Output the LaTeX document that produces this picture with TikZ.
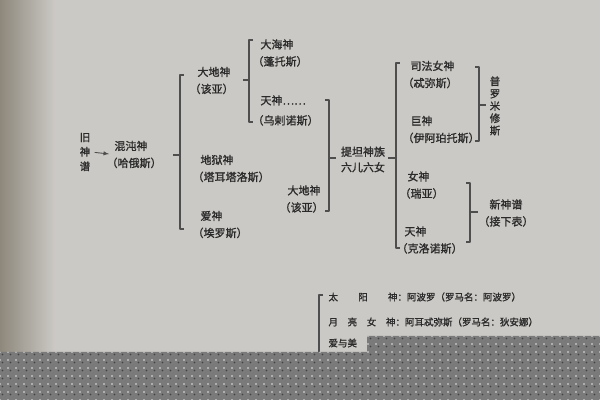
\documentclass[tikz,border=0pt]{standalone}
\usepackage{fontspec}
\newfontfamily\cjk{Noto Sans CJK SC}[FakeBold=1.2]
\usepackage{tikz}
\usetikzlibrary{patterns.meta}
\definecolor{pagecol}{RGB}{203,201,197}
\definecolor{edgecol}{RGB}{142,136,124}
\definecolor{inkcol}{RGB}{42,42,42}
\definecolor{rulecol}{RGB}{78,78,78}
\definecolor{bandcol}{RGB}{122,122,122}
\newcommand\pn[1]{\hspace*{-0.72em}（#1）}
\begin{document}
\begin{tikzpicture}[>=latex,line join=bevel,
  god/.style={align=left,anchor=west,inner sep=0pt,text=inkcol,
    font={\cjk\fontsize{11bp}{17bp}\selectfont}},
  godc/.style={god,align=center,anchor=center},
  table line/.style={god,font={\cjk\fontsize{9.5bp}{12bp}\selectfont}},
  bracket/.style={draw=rulecol,line width=1.1bp},
  ]
  \pgfsetlinewidth{1bp}
\useasboundingbox (0bp,0bp) rectangle (600bp,400bp);
%% page
  \fill [pagecol] (0bp,0bp) rectangle (600bp,400bp);
  \shade [left color=edgecol,right color=pagecol] (0bp,0bp) rectangle (55bp,400bp);
%%
  % Node: jiu
  \node [godc,font={\cjk\fontsize{10.5bp}{14.5bp}\selectfont}] (jiu) at (85bp,248bp) {旧\\神\\谱};
  % Node: hundun
  \node [god] (hundun) at (114bp,245.5bp) {混沌神\\\pn{哈俄斯}};
  % Node: dadi1
  \node [god] (dadi1) at (197bp,319.5bp) {大地神\\\pn{该亚}};
  % Node: diyu
  \node [god] (diyu) at (200bp,231.5bp) {地狱神\\\pn{塔耳塔洛斯}};
  % Node: ai
  \node [god] (ai) at (200bp,175.5bp) {爱神\\\pn{埃罗斯}};
  % Node: dahai
  \node [god] (dahai) at (260bp,347bp) {大海神\\\pn{蓬托斯}};
  % Node: tian1
  \node [god,font={\cjk\fontsize{11bp}{20bp}\selectfont}] (tian1) at (260bp,289.5bp) {天神……\\\pn{乌剌诺斯}};
  % Node: dadi2
  \node [god] (dadi2) at (287bp,201bp) {大地神\\\pn{该亚}};
  % Node: titan
  \node [godc,font={\cjk\fontsize{11bp}{15.5bp}\selectfont}] (titan) at (363bp,240.5bp) {提坦神族\\六儿六女};
  % Node: sifa
  \node [god] (sifa) at (410bp,325.5bp) {司法女神\\\pn{忒弥斯}};
  % Node: ju
  \node [god] (ju) at (410bp,270.5bp) {巨神\\\pn{伊阿珀托斯}};
  % Node: nv
  \node [god] (nv) at (407bp,215bp) {女神\\\pn{瑞亚}};
  % Node: tian2
  \node [god] (tian2) at (404bp,160bp) {天神\\\pn{克洛诺斯}};
  % Node: pulu
  \node [godc,font={\cjk\fontsize{10.5bp}{12.3bp}\selectfont}] (pulu) at (495bp,294bp) {普\\罗\\米\\修\\斯};
  % Node: xin
  \node [godc] (xin) at (506bp,187bp) {新神谱\\（接下表）};
  % Node: sun
  \node [table line] (sun) at (328bp,103bp) {\makebox[69bp][l]{太\hfill 阳\hfill 神}：阿波罗（罗马名：阿波罗）};
  % Node: moon
  \node [table line] (moon) at (328bp,78bp) {\makebox[67bp][l]{月\hfill 亮\hfill 女\hfill 神}：阿耳忒弥斯（罗马名：狄安娜）};
  % Node: love
  \node [table line] (love) at (328bp,57bp) {爱与美};
%%
  % Edge: jiu -> hundun
  \draw [->,draw=rulecol,line width=0.9bp,shorten <=4bp,shorten >=5bp] (jiu.east) -- (hundun.west);
  % Edge: hundun -> dadi1, diyu, ai
  \draw [bracket] (184bp,325bp) -- (180bp,325bp) -- (180bp,171bp) -- (184bp,171bp);
  \draw [bracket] (173bp,245bp) -- (180bp,245bp);
  % Edge: dadi1 -> dahai, tian1
  \draw [bracket] (253bp,360bp) -- (249bp,360bp) -- (249bp,278bp) -- (253bp,278bp);
  \draw [bracket] (243bp,320bp) -- (249bp,320bp);
  % Edge: tian1, dadi2 -> titan
  \draw [bracket] (325bp,300bp) -- (329bp,300bp) -- (329bp,189bp) -- (325bp,189bp);
  \draw [bracket] (329bp,242bp) -- (336bp,242bp);
  % Edge: titan -> sifa, ju, nv, tian2
  \draw [bracket] (400bp,337bp) -- (396bp,337bp) -- (396bp,152bp) -- (400bp,152bp);
  \draw [bracket] (388bp,242bp) -- (396bp,242bp);
  % Edge: sifa, ju -> pulu
  \draw [bracket] (475bp,333bp) -- (479bp,333bp) -- (479bp,259bp) -- (475bp,259bp);
  \draw [bracket] (479bp,295bp) -- (486bp,295bp);
  % Edge: nv, tian2 -> xin
  \draw [bracket] (466bp,217bp) -- (470bp,217bp) -- (470bp,158bp) -- (466bp,158bp);
  \draw [bracket] (470bp,188bp) -- (478bp,188bp);
  % Edge: sun, moon, love
  \draw [bracket] (323bp,105bp) -- (319bp,105bp) -- (319bp,40bp);
%% band
  \fill [bandcol] (0bp,0bp) -- (600bp,0bp) -- (600bp,64bp) -- (367bp,64bp) -- (367bp,48bp) -- (0bp,48bp) -- cycle;
  \fill [pattern={Dots[distance=8bp,radius=0.9bp]},pattern color=white!90!black]
    (0bp,0bp) -- (600bp,0bp) -- (600bp,64bp) -- (367bp,64bp) -- (367bp,48bp) -- (0bp,48bp) -- cycle;
  \fill [pattern={Dots[distance=8bp,radius=0.8bp,xshift=2.5bp,yshift=-2.5bp]},pattern color=black!75]
    (0bp,0bp) -- (600bp,0bp) -- (600bp,64bp) -- (367bp,64bp) -- (367bp,48bp) -- (0bp,48bp) -- cycle;
%
\end{tikzpicture}
\end{document}
